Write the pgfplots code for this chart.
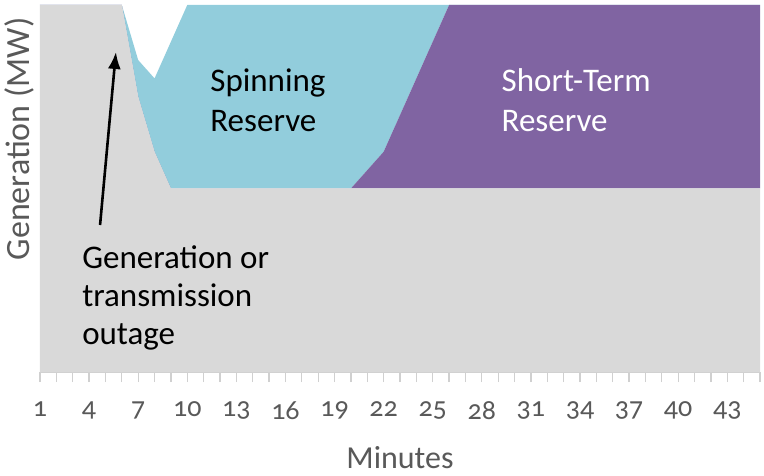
\documentclass[border=0pt]{standalone}
\usepackage{fontspec}
\setmainfont{Carlito}[Numbers=OldStyle]
\usepackage{pgfplots}
\usepackage{pgfplotstable}
\usetikzlibrary{arrows.meta}
\pgfplotsset{compat=1.18}
\definecolor{basegray}{HTML}{D9D9D9}
\definecolor{spinblue}{HTML}{92CDDC}
\definecolor{stpurple}{HTML}{8064A2}
\definecolor{txtgray}{HTML}{595959}
\definecolor{tickgray}{HTML}{D0D0D0}

% minute, base generation, short-term reserve, spinning reserve
\pgfplotstableread{
x  gen  st  spin
1  100  0   0
2  100  0   0
3  100  0   0
4  100  0   0
5  100  0   0
6  100  0   0
7  75   0   10
8  60   0   20
9  50   0   40
10 50   0   50
11 50   0   50
12 50   0   50
13 50   0   50
14 50   0   50
15 50   0   50
16 50   0   50
17 50   0   50
18 50   0   50
19 50   0   50
20 50   0   50
21 50   5   45
22 50   10  40
23 50   20  30
24 50   30  20
25 50   40  10
26 50   50  0
27 50   50  0
28 50   50  0
29 50   50  0
30 50   50  0
31 50   50  0
32 50   50  0
33 50   50  0
34 50   50  0
35 50   50  0
36 50   50  0
37 50   50  0
38 50   50  0
39 50   50  0
40 50   50  0
41 50   50  0
42 50   50  0
43 50   50  0
44 50   50  0
45 50   50  0
}\outage

\begin{document}
\begin{tikzpicture}
\begin{axis}[
    scale only axis,
    width=720bp, height=367bp,
    xmin=1, xmax=45, ymin=0, ymax=100,
    stack plots=y,
    axis lines*=left,
    x axis line style={draw=tickgray, line width=1.2bp, -},
    y axis line style={draw=none},
    xtick={1,4,...,43},
    minor xtick={1,...,45},
    ytick=\empty,
    tick align=outside,
    major tick length=10bp,
    minor tick length=10bp,
    every tick/.style={draw=tickgray, line width=1.2bp},
    every minor tick/.style={draw=tickgray, line width=1.2bp},
    /pgf/number format/assume math mode=true,
    xticklabel style={font=\fontsize{28bp}{32bp}\selectfont, text=txtgray, yshift=-16bp},
    xlabel={Minutes},
    xlabel style={font=\fontsize{32bp}{36bp}\selectfont, text=txtgray, at={(axis description cs:0.5,0)}, anchor=center, yshift=-86bp},
    ylabel={Generation (MW)},
    ylabel style={font=\fontsize{34bp}{38bp}\selectfont, text=txtgray, at={(axis description cs:0,0.635)}, anchor=center, yshift=21bp},
    clip=true,
    after end axis/.code={
      \node[anchor=west, align=left, inner sep=0pt, font=\fontsize{33bp}{40bp}\selectfont, text=black]
          at (axis cs:11.4,74.1) {Spinning\\Reserve};
      \node[anchor=west, align=left, inner sep=0pt, font=\fontsize{33bp}{40bp}\selectfont, text=white]
          at (axis cs:29.2,74.1) {Short-Term\\Reserve};
      \node[anchor=west, align=left, inner sep=0pt, font=\fontsize{33bp}{38bp}\selectfont, text=black]
          at (axis cs:3.57,20.2) {Generation or\\transmission\\outage};
      \draw[line width=2.6bp, -{Latex[length=17bp, width=13bp]}]
          (axis cs:4.67,40.05) -- (axis cs:5.64,87.2);
    },
]
\addplot[fill=basegray, draw=none] table[x=x, y=gen] {\outage} \closedcycle;
\addplot[fill=stpurple, draw=none] table[x=x, y=st] {\outage} \closedcycle;
\addplot[fill=spinblue, draw=none] table[x=x, y=spin] {\outage} \closedcycle;
\end{axis}
\pgfresetboundingbox
\path (-40bp,-104bp) rectangle (724bp,372bp);
\end{tikzpicture}
\end{document}
